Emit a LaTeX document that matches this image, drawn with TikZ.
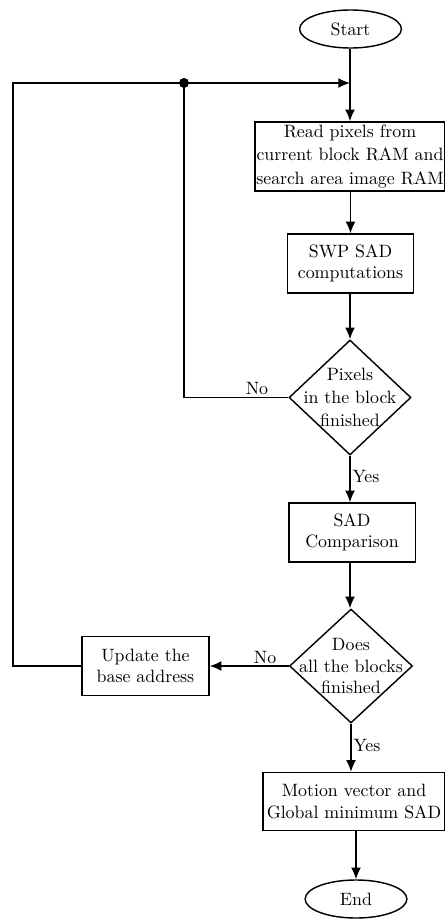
\documentclass[tikz,border=0pt]{standalone}
\usetikzlibrary{shapes.geometric,arrows.meta}
\begin{document}
\begin{tikzpicture}[x=0.56pt,y=-0.56pt,
  line width=0.8pt,
  arr/.style={-{Latex[length=6.5pt,width=5.5pt]}},
  terminal/.style={draw,ellipse,minimum width=57pt,minimum height=21.3pt,inner sep=0pt},
  procbox/.style={draw,rectangle,align=center,inner sep=0pt},
  decision/.style={draw,diamond,inner sep=0pt},
  lbl/.style={inner sep=1pt}]
\useasboundingbox (0,0) rectangle (444,921);
\node[terminal] (start) at (350.5,29) {Start};
\node[procbox,minimum width=106.4pt,minimum height=38.6pt] (read) at (350,156.5)
  {Read pixels from\\[1pt]current block RAM and\\[1pt]search area image RAM};
\node[procbox,minimum width=70.8pt,minimum height=33pt] (swp) at (350.5,263.5)
  {SWP SAD\\computations};
\node[decision,minimum width=68.3pt,minimum height=64.4pt,
  label={[align=center]center:Pixels\\[1pt]in the block\\[1pt]finished}] (d1) at (350,397.5) {};
\node[procbox,minimum width=70.8pt,minimum height=33pt] (sad) at (352,532.5)
  {SAD\\Comparison};
\node[decision,minimum width=68.9pt,minimum height=63.8pt,
  label={[align=center]center:Does\\all the blocks\\finished}] (d2) at (351,666) {};
\node[procbox,minimum width=71.1pt,minimum height=33pt] (upd) at (145.5,666)
  {Update the\\base address};
\node[procbox,minimum width=102pt,minimum height=32.5pt] (mot) at (354,801.5)
  {Motion vector and\\Global minimum SAD};
\node[terminal] (end) at (356,899) {End};

\coordinate (join) at (350,83);
\coordinate (dot) at (184,83);
\coordinate (tl) at (13,83);
\coordinate (bl) at (13,666);
\coordinate (d1l) at (184,397.5);

\draw[arr] (start.south -| join) -- (read.north -| join);
\draw[arr] (read.south -| swp) -- (swp.north);
\draw[arr] (swp.south -| d1) -- (d1.north);
\draw[arr] (d1.south) -- node[lbl,right,pos=0.45] {Yes} (d1.south |- sad.north);
\draw[arr] (sad.south -| d1) -- (d2.north -| d1);
\draw[arr] (d2.south) -- node[lbl,right,pos=0.45] {Yes} (d2.south |- mot.north);
\draw[arr] (mot.south -| end.north) -- (end.north);
\draw[arr] (d2.west) -- node[lbl,above,pos=0.3] {No} (upd.east);
\draw (d1.west) -- node[lbl,above,pos=0.3] {No} (d1l) -- (dot);
\draw[arr] (upd.west) -- (bl) -- (tl) -- (join);
\fill (dot) circle (5);
\end{tikzpicture}
\end{document}
